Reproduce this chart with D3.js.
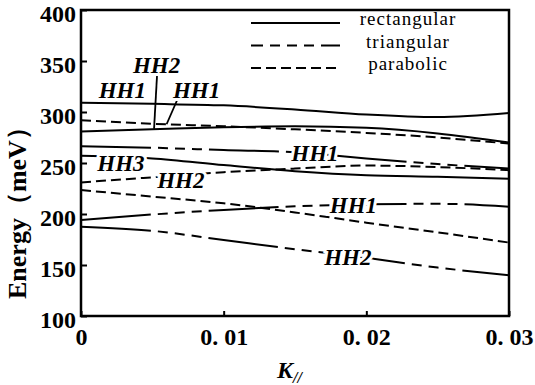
<!DOCTYPE html>
<html>
<head>
<meta charset="utf-8">
<script src="https://cdn.jsdelivr.net/npm/d3@7"></script>
<style>
  body { margin: 0; background: white; }
  svg { display: block; }
</style>
</head>
<body>
<div id="container"></div>
<script>
let w = 535;
let h = 385;

// DATA (k in 1/A, energy in meV)
let kValues = [0, 0.005, 0.01, 0.015, 0.02, 0.025, 0.03];
let rectHH1 = [309, 308, 306.5, 302.5, 297.5, 295, 299];
let rectHH2 = [281, 283, 285, 286, 284.5, 279, 270];
let rectHH3 = [257, 254.5, 248, 242, 238, 236.5, 234.5];
let paraHH1 = [292, 288.5, 286, 283, 279.5, 275, 269];
let paraHH2 = [231, 236, 241, 244.5, 247.5, 246, 243];
let paraLow = [223.5, 217, 210.5, 201.5, 191.5, 182, 172];
let triHH1a = [266.5, 265, 262.7, 260.5, 254.5, 249, 244.5];
let triHH1b = [194, 199.5, 204, 207.5, 209.5, 210, 207];
let triHH2 = [187.5, 183.5, 174.5, 165.5, 157, 147.5, 140];

let yTicks = [100, 150, 200, 250, 300, 350, 400];
let xTicks = [0, 0.01, 0.02, 0.03];
let xTickLabels = ["0", "0. 01", "0. 02", "0. 03"];

let legendNames = ["rectangular", "triangular", "parabolic"];

// curve labels: [text, k, energy]
let curveLabels = [
  ["HH1", 0.0029, 313.5],
  ["HH2", 0.0053, 338],
  ["HH1", 0.0081, 313.5],
  ["HH3", 0.0028, 242],
  ["HH2", 0.0070, 225.5],
  ["HH1", 0.0164, 252],
  ["HH1", 0.0191, 201],
  ["HH2", 0.0187, 150]
];
// pointer lines: [k1, e1, k2, e2]
let pointers = [
  [0.00533, 336, 0.00512, 283.5],
  [0.00675, 312, 0.00600, 288]
];

let solid = null;
let dashed = "10,5";
let dashDot = "70,7,10,7,10,7,10,7";

let curves = [
  { v: rectHH1, dash: solid },
  { v: rectHH2, dash: solid },
  { v: rectHH3, dash: solid },
  { v: paraHH1, dash: dashed },
  { v: paraHH2, dash: dashed },
  { v: paraLow, dash: dashed },
  { v: triHH1a, dash: dashDot },
  { v: triHH1b, dash: dashDot },
  { v: triHH2, dash: dashDot }
];
let legendDash = [solid, dashDot, dashed];

let serif = "'Liberation Serif', Tinos, 'DejaVu Serif', serif";

let viz = d3.select("#container").append("svg")
  .attr("width", w)
  .attr("height", h)
  .style("background-color", "white");

let x = d3.scaleLinear().domain([0, 0.03]).range([81, 509]);
let y = d3.scaleLinear().domain([100, 400]).range([316, 10]);

// curves
let lineMaker = d3.line()
  .x(function (d) { return x(d[0]); })
  .y(function (d) { return y(d[1]); })
  .curve(d3.curveMonotoneX);

viz.selectAll(".curve").data(curves).enter()
  .append("path")
  .attr("class", "curve")
  .attr("d", function (d) {
    return lineMaker(kValues.map(function (k, i) { return [k, d.v[i]]; }));
  })
  .attr("fill", "none")
  .attr("stroke", "black")
  .attr("stroke-width", 2)
  .attr("stroke-dasharray", function (d) { return d.dash; });

// pointers
viz.selectAll(".pointer").data(pointers).enter()
  .append("line")
  .attr("x1", function (d) { return x(d[0]); })
  .attr("y1", function (d) { return y(d[1]); })
  .attr("x2", function (d) { return x(d[2]); })
  .attr("y2", function (d) { return y(d[3]); })
  .attr("stroke", "black")
  .attr("stroke-width", 1.8);

// curve labels with white halo
viz.selectAll(".clabel").data(curveLabels).enter()
  .append("text")
  .attr("x", function (d) { return x(d[1]); })
  .attr("y", function (d) { return y(d[2]); })
  .attr("text-anchor", "middle")
  .attr("font-family", serif)
  .attr("font-size", 23)
  .attr("font-weight", "bold")
  .attr("font-style", "italic")
  .style("paint-order", "stroke")
  .attr("stroke", "white")
  .attr("stroke-width", 6)
  .attr("fill", "black")
  .text(function (d) { return d[0]; });

// axes
let yAxis = d3.axisLeft(y).tickValues(yTicks).tickSizeInner(-6).tickSizeOuter(0).tickPadding(5);
let yg = viz.append("g").attr("transform", "translate(81,0)").call(yAxis);
yg.attr("font-family", serif).attr("font-size", 24).attr("font-weight", "bold");
yg.selectAll("text").attr("dy", "0.48em").attr("fill", "black");

let xAxis = d3.axisBottom(x).tickValues(xTicks).tickSizeInner(-5).tickSizeOuter(0).tickPadding(12)
  .tickFormat(function (d, i) { return xTickLabels[i]; });
let xg = viz.append("g").attr("transform", "translate(0,316)").call(xAxis);
xg.attr("font-family", serif).attr("font-size", 24).attr("font-weight", "bold");
xg.selectAll("text").attr("fill", "black");

[yg, xg].forEach(function (g) {
  g.select(".domain").remove();
  g.selectAll("line").attr("stroke", "black").attr("stroke-width", 2);
});

// frame
viz.append("rect")
  .attr("x", 81).attr("y", 10)
  .attr("width", 509 - 81).attr("height", 316 - 10)
  .attr("fill", "none")
  .attr("stroke", "black")
  .attr("stroke-width", 2.5);

// axis titles
viz.append("text")
  .attr("transform", "translate(26,299) rotate(-90)")
  .attr("text-anchor", "start")
  .attr("font-family", serif)
  .attr("font-size", 26)
  .attr("font-weight", "bold")
  .text("Energy（meV）");

let kt = viz.append("text")
  .attr("x", 277).attr("y", 378)
  .attr("font-family", serif)
  .attr("font-weight", "bold")
  .attr("font-style", "italic");
kt.append("tspan").attr("font-size", 24).text("K");
kt.append("tspan").attr("font-size", 16).attr("dy", 5).text("//");

// legend
let legend = viz.selectAll(".legend").data(legendNames).enter()
  .append("g")
  .attr("class", "legend")
  .attr("transform", function (d, i) { return "translate(0," + (23 + i * 22.5) + ")"; });

legend.append("line")
  .attr("x1", 251).attr("x2", 340)
  .attr("y1", 0).attr("y2", 0)
  .attr("stroke", "black")
  .attr("stroke-width", 2)
  .attr("stroke-dasharray", function (d, i) { return legendDash[i]; })
  .attr("stroke-dashoffset", function (d, i) { return legendDash[i] == dashDot ? 58 : 0; });

legend.append("text")
  .attr("x", 408).attr("y", 2)
  .attr("text-anchor", "middle")
  .attr("font-family", serif)
  .attr("font-size", 19)
  .attr("letter-spacing", 1)
  .text(function (d) { return d; });
</script>
</body>
</html>
